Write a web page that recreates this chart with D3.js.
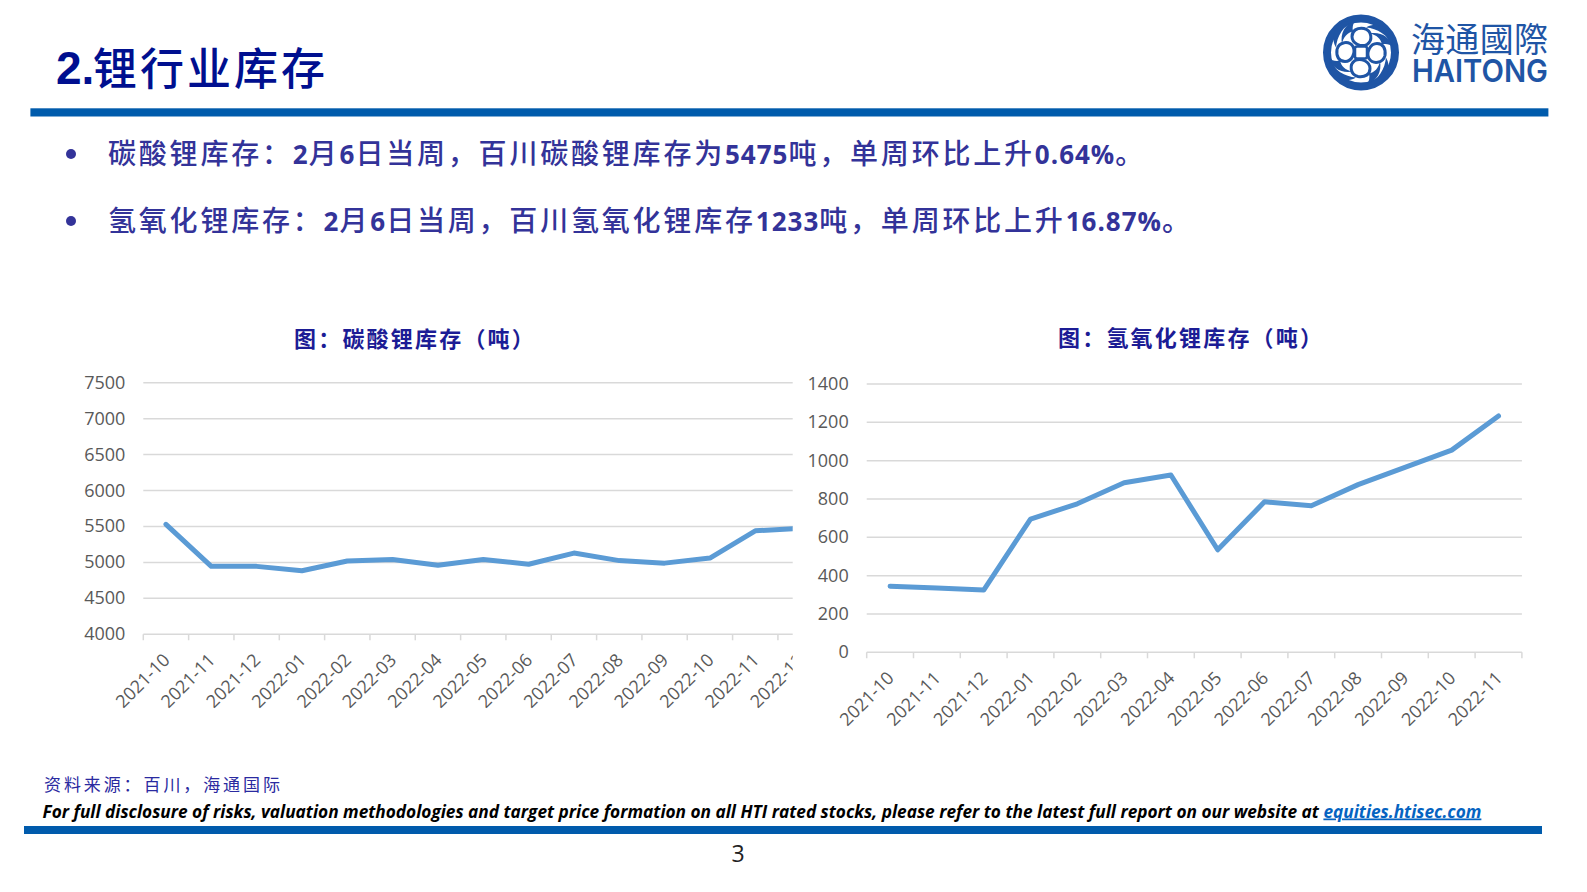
<!DOCTYPE html>
<html>
<head>
<meta charset="utf-8">
<script src="https://cdn.jsdelivr.net/npm/d3@7"></script>
<style>
html, body { margin: 0; padding: 0; background: #fff; overflow: hidden; }
svg text { font-family: "Open Sans", "Noto Sans CJK SC", sans-serif; }
.cjk { font-family: "Noto Sans CJK SC", sans-serif !important; }
.tick-label { font-family: "Open Sans", sans-serif; font-size: 18px; fill: #595959; }
</style>
</head>
<body>
<svg id="page" width="1587" height="892"></svg>
<script>
const leftMonths = ["2021-10", "2021-11", "2021-12", "2022-01", "2022-02", "2022-03", "2022-04", "2022-05", "2022-06", "2022-07", "2022-08", "2022-09", "2022-10", "2022-11", "2022-12"];
const leftValues = [5530, 4945, 4945, 4885, 5020, 5040, 4960, 5040, 4975, 5130, 5025, 4990, 5060, 5440, 5475];
const leftTicks = [4000, 4500, 5000, 5500, 6000, 6500, 7000, 7500];

const rightMonths = ["2021-10", "2021-11", "2021-12", "2022-01", "2022-02", "2022-03", "2022-04", "2022-05", "2022-06", "2022-07", "2022-08", "2022-09", "2022-10", "2022-11"];
const rightValues = [345, 335, 325, 695, 775, 885, 925, 535, 785, 765, 875, 965, 1055, 1233];
const rightTicks = [0, 200, 400, 600, 800, 1000, 1200, 1400];

const bullets = [
	{ y: 163.5, parts: ["碳酸锂库存：", "2", "月", "6", "日当周，百川碳酸锂库存为", "5475", "吨，单周环比上升", "0.64%", "。"] },
	{ y: 230.5, parts: ["氢氧化锂库存：", "2", "月", "6", "日当周，百川氢氧化锂库存", "1233", "吨，单周环比上升", "16.87%", "。"] }
];

const blue = "#005bac";
const navy = "#333399";
const logoBlue = "#1f55a5";
const svg = d3.select("#page");

// header
svg.append("text").attr("x", 56).attr("y", 84)
	.attr("font-size", 46).attr("font-weight", 700).attr("fill", "#000f8f")
	.style("font-family", "'Liberation Sans', sans-serif").text("2.");
svg.append("text").attr("class", "cjk").attr("x", 93).attr("y", 85)
	.attr("font-size", 44).attr("font-weight", 500).attr("letter-spacing", 3).attr("fill", "#000f8f")
	.text("锂行业库存");
svg.append("rect").attr("x", 30.4).attr("y", 108.3).attr("width", 1518).attr("height", 8.2).attr("fill", blue);

// logo
const logo = svg.append("g").attr("transform", "translate(1361,52.5)");
logo.append("circle").attr("r", 34).attr("fill", "none").attr("stroke", logoBlue).attr("stroke-width", 8);
d3.range(4).forEach(i => {
	const arm = logo.append("g").attr("transform", `rotate(${i * 90})`);
	// lobe open on its upper right, its end runs into a point
	arm.append("path").attr("d", "M3,-24 C11,-22 12,-12 6,-8 C0,-5 -9,-9 -9,-16 C-9,-22 -4,-25 3,-24 Z")
		.attr("fill", "#fff").attr("stroke", logoBlue).attr("stroke-width", 3);
	arm.append("path").attr("d", "M32,-6 C28,-16 20,-21 8,-19 C16,-18 20,-13 21,-8 C25,-9 29,-8 32,-6 Z").attr("fill", logoBlue);
	arm.append("path").attr("d", "M-6,-32 C-18,-27 -24,-16 -25,-5 C-30,-13 -28,-25 -18,-31 Z").attr("fill", logoBlue);
});
logo.append("rect").attr("x", -6).attr("y", -6).attr("width", 12).attr("height", 12).attr("rx", 2)
	.attr("fill", "#fff").attr("stroke", logoBlue).attr("stroke-width", 2.5);
svg.append("text").attr("class", "cjk").attr("x", 1411).attr("y", 52)
	.attr("font-size", 34).attr("fill", logoBlue).attr("textLength", 137).attr("lengthAdjust", "spacing").text("海通國際");
svg.append("text").attr("x", 1412).attr("y", 82)
	.attr("font-size", 31).attr("font-weight", 600).attr("fill", logoBlue)
	.attr("textLength", 136).attr("lengthAdjust", "spacingAndGlyphs")
	.style("font-family", "Inter, sans-serif").text("HAITONG");

// bullet lines
bullets.forEach(b => {
	svg.append("circle").attr("cx", 71).attr("cy", b.y - 9.5).attr("r", 5).attr("fill", navy);
	const t = svg.append("text").attr("x", 108).attr("y", b.y).attr("fill", navy);
	b.parts.forEach(p => {
		const latin = /^[0-9.%]+$/.test(p);
		t.append("tspan").attr("class", latin ? null : "cjk")
			.attr("letter-spacing", latin ? 1 : 2.8)
			.attr("font-weight", latin ? 700 : 500)
			.attr("font-size", latin ? 26 : 28)
			.text(p);
	});
});

function drawChart(opts) {
	const g = svg.append("g");
	const clipId = "clip-" + opts.id;
	svg.append("clipPath").attr("id", clipId).append("rect")
		.attr("x", opts.left - 100).attr("y", 0).attr("width", opts.clipRight - opts.left + 100).attr("height", 892);

	const x = d3.scaleBand().domain(opts.months).range([opts.left, opts.left + opts.band * opts.months.length]);
	const y = d3.scaleLinear().domain(d3.extent(opts.ticks)).range([opts.bottom, opts.top]);

	const inner = g.append("g").attr("clip-path", `url(#${clipId})`);

	// gridlines
	inner.selectAll("line.grid").data(opts.ticks).join("line").attr("class", "grid")
		.attr("x1", opts.left).attr("x2", x.range()[1])
		.attr("y1", d => y(d)).attr("y2", d => y(d))
		.attr("stroke", "#d9d9d9").attr("stroke-width", 1.5);

	// x ticks
	const tickXs = opts.months.map(m => x(m)).concat([x.range()[1]]);
	inner.selectAll("line.xt").data(tickXs).join("line").attr("class", "xt")
		.attr("x1", d => d).attr("x2", d => d)
		.attr("y1", opts.bottom).attr("y2", opts.bottom + 6)
		.attr("stroke", "#d9d9d9").attr("stroke-width", 1.5);

	// x labels
	inner.selectAll("text.xl").data(opts.months).join("text").attr("class", "xl tick-label")
		.attr("text-anchor", "end")
		.attr("transform", d => `translate(${x(d) + x.bandwidth() / 2 + 5},${opts.bottom + 27}) rotate(-45)`)
		.text(d => d);

	// y labels
	g.selectAll("text.yl").data(opts.ticks).join("text").attr("class", "yl tick-label")
		.attr("x", opts.left - 18).attr("y", d => y(d) + 6)
		.attr("text-anchor", "end").text(d => d);

	const line = d3.line()
		.x((d, i) => x(opts.months[i]) + x.bandwidth() / 2)
		.y(d => y(d));
	inner.append("path").datum(opts.values).attr("d", line)
		.attr("fill", "none").attr("stroke", "#5b9bd5").attr("stroke-width", 5)
		.attr("stroke-linejoin", "round").attr("stroke-linecap", "round");

	svg.append("text").attr("class", "cjk").attr("x", opts.titleX).attr("y", opts.titleY)
		.attr("font-size", 22).attr("font-weight", 700).attr("letter-spacing", 2.2).attr("fill", "#1c1c95")
		.text(opts.title);
}

drawChart({ id: "left", months: leftMonths, values: leftValues, ticks: leftTicks, left: 143.3, band: 45.33, top: 382.7, bottom: 634.3, clipRight: 792.7, title: "图：碳酸锂库存（吨）", titleX: 294, titleY: 347 });
drawChart({ id: "right", months: rightMonths, values: rightValues, ticks: rightTicks, left: 866.7, band: 46.8, top: 384, bottom: 652.3, clipRight: 1530, title: "图：氢氧化锂库存（吨）", titleX: 1058, titleY: 346 });

// footer
svg.append("text").attr("class", "cjk").attr("x", 44).attr("y", 791).attr("font-size", 17).attr("letter-spacing", 2.9).attr("fill", "#2a2aa0")
	.text("资料来源：百川，海通国际");
const foot = svg.append("text").attr("x", 42.5).attr("y", 817.5).attr("font-size", 17.25).attr("font-weight", 700).attr("font-style", "italic").attr("fill", "#000")
	.style("font-family", "'Open Sans', sans-serif");
foot.append("tspan").text("For full disclosure of risks, valuation methodologies and target price formation on all HTI rated stocks, please refer to the latest full report on our website at ");
foot.append("tspan").attr("fill", "#0563c1").attr("text-decoration", "underline").text("equities.htisec.com");
svg.append("rect").attr("x", 24).attr("y", 826).attr("width", 1518).attr("height", 8).attr("fill", blue);
svg.append("text").attr("x", 738).attr("y", 862).attr("text-anchor", "middle").attr("font-size", 23).attr("fill", "#222").text("3");
</script>
</body>
</html>
